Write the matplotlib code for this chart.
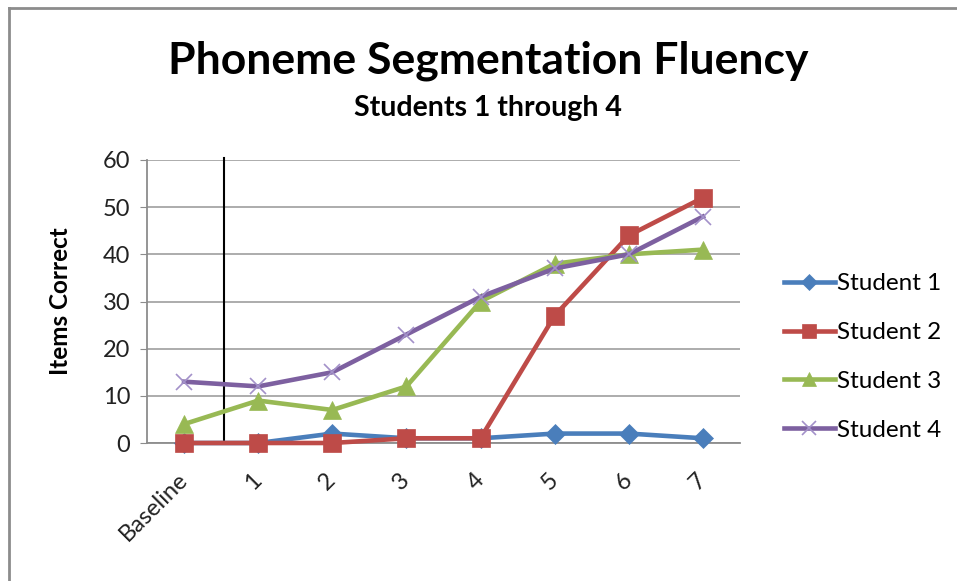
import matplotlib
matplotlib.use("Agg")
import matplotlib.pyplot as plt
from matplotlib.lines import Line2D

plt.rcParams['font.family'] = ['Lato', 'DejaVu Sans']

sessions = ["Baseline", "1", "2", "3", "4", "5", "6", "7"]
student1 = [0, 0, 2, 1, 1, 2, 2, 1]
student2 = [0, 0, 0, 1, 1, 27, 44, 52]
student3 = [4, 9, 7, 12, 30, 38, 40, 41]
student4 = [13, 12, 15, 23, 31, 37, 40, 48]
series_names = ["Student 1", "Student 2", "Student 3", "Student 4"]
y_ticks = [0, 10, 20, 30, 40, 50, 60]
phase_change = 0.54  # hand-drawn divider between baseline and intervention

W, H = 957, 581
fig = plt.figure(figsize=(W / 100, H / 100), dpi=100)
fig.patch.set_facecolor("white")

# outer chart frame (left and top edges)
fig.add_artist(Line2D([9 / W, 9 / W], [0, 1 - 8 / H], transform=fig.transFigure,
                      color="#8c8c8c", lw=2))
fig.add_artist(Line2D([9 / W, 1], [1 - 8 / H, 1 - 8 / H], transform=fig.transFigure,
                      color="#8c8c8c", lw=2))

left, right, top, bottom = 147, 740, 160, 443
ax = fig.add_axes([left / W, 1 - bottom / H, (right - left) / W, (bottom - top) / H])

x = list(range(len(sessions)))
styles = [
    (student1, "#4A7EBB", "D", 10, "#4A7EBB"),
    (student2, "#BE4B48", "s", 13, "#BE4B48"),
    (student3, "#98B954", "^", 13, "#98B954"),
    (student4, "#7D60A0", "x", 12, "#A391C9"),
]
handles = []
for (vals, col, mk, ms, mcol), name in zip(styles, series_names):
    ln, = ax.plot(x, vals, color=col, lw=3.3, marker=mk, markersize=ms,
                  markerfacecolor=mcol, markeredgecolor=mcol,
                  markeredgewidth=1.2 if mk == "x" else 0.5, label=name,
                  clip_on=False, zorder=3)
    handles.append(ln)

ax.plot([phase_change, phase_change], [0, 60.5], color="black", lw=1.5,
        clip_on=False, zorder=2)

ax.set_xlim(-0.5, len(sessions) - 0.5)
ax.set_ylim(0, 60)
ax.set_yticks(y_ticks)
ax.set_yticklabels([str(v) for v in y_ticks], fontsize=17, color="#222222")
ax.set_xticks(x)
ax.set_xticklabels(sessions, fontsize=17, rotation=45, ha="right", va="center",
                   rotation_mode="anchor", color="#222222")
ax.tick_params(axis="x", length=0, pad=24)
ax.tick_params(axis="y", length=5, color="#8c8c8c", pad=7)

ax.grid(axis="y", color="#a6a6a6", lw=1.3)
ax.set_axisbelow(True)
for s in ["top", "right"]:
    ax.spines[s].set_visible(False)
for s in ["left", "bottom"]:
    ax.spines[s].set_color("#8c8c8c")
    ax.spines[s].set_linewidth(1.3)

ax.set_ylabel("Items Correct", fontsize=17.5, fontweight="bold", labelpad=22)

fig.text(488 / W, 1 - 61 / H, "Phoneme Segmentation Fluency", fontsize=32,
         fontweight="bold", ha="center", va="center")
fig.text(488 / W, 1 - 108 / H, "Students 1 through 4", fontsize=20.5,
         fontweight="bold", ha="center", va="center")

fig.legend(handles=handles, loc="center left", bbox_to_anchor=(762 / W, 1 - 357 / H),
           frameon=False, fontsize=17.5, handlelength=2.1, handletextpad=0.1,
           labelspacing=1.15, markerscale=0.8)

fig.savefig("out.png", dpi=100, facecolor="white")
